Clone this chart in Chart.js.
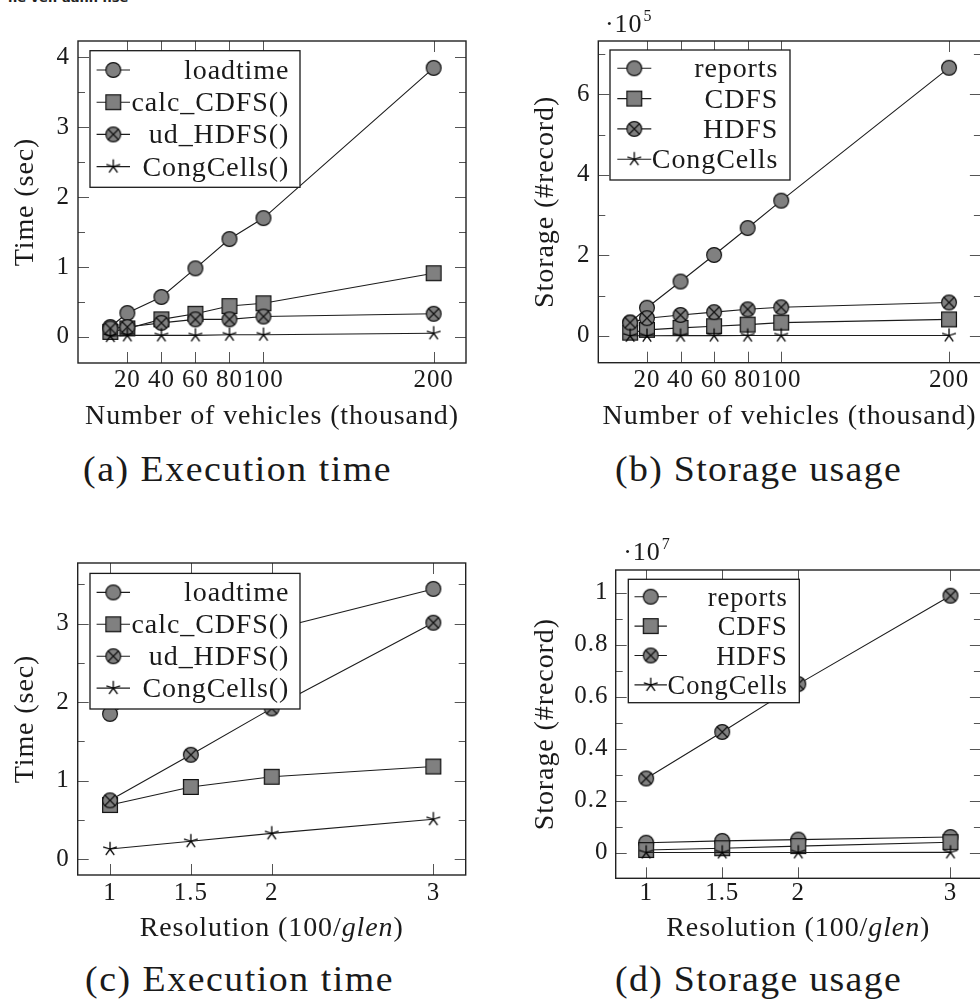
<!DOCTYPE html>
<html>
<head>
<meta charset="utf-8">
<script src="https://cdn.jsdelivr.net/npm/chart.js@4/dist/chart.umd.min.js"></script>
<style>
html,body{margin:0;padding:0;background:#fff;overflow:hidden;width:980px;height:1001px;position:relative;}
canvas{position:absolute;}
.cap{position:absolute;font-size:35px;line-height:35px;color:#1a1a1a;white-space:nowrap;transform-origin:0 0;}
#frag{position:absolute;left:8px;top:-10px;font:bold 13px 'DejaVu Sans',sans-serif;color:#222;white-space:nowrap;}
</style>
</head>
<body>
<div id="frag">ne ver. aann nse</div>
<canvas id="cA" width="490" height="432" style="left:0;top:0"></canvas>
<canvas id="cB" width="500" height="432" style="left:490px;top:0"></canvas>
<canvas id="cC" width="490" height="403" style="left:0;top:540px"></canvas>
<canvas id="cD" width="500" height="413" style="left:490px;top:530px"></canvas>
<div class="cap" id="capA" style="left:83px;top:452px">(a) Execution time</div>
<div class="cap" id="capB" style="left:615px;top:452px">(b) Storage usage</div>
<div class="cap" id="capC" style="left:85px;top:962px">(c) Execution time</div>
<div class="cap" id="capD" style="left:615px;top:962px">(d) Storage usage</div>
<script>
// ---------- data ----------
const vehicles = [10, 20, 40, 60, 80, 100, 200];          // thousand
const vehicleTicks = [20, 40, 60, 80, 100, 200];
const resolution = [1, 1.5, 2, 3];
const resolutionTicks = [1, 1.5, 2, 3];

// (a) execution time (sec)
const loadtimeA  = [0.14, 0.34, 0.57, 0.98, 1.40, 1.70, 3.85];
const calcCdfsA  = [0.07, 0.12, 0.25, 0.33, 0.44, 0.48, 0.91];
const udHdfsA    = [0.12, 0.14, 0.20, 0.25, 0.25, 0.29, 0.33];
const congCellsA = [0.01, 0.02, 0.02, 0.02, 0.03, 0.03, 0.05];
const timeTicksA = [0, 1, 2, 3, 4];
const timeMinorA = [0.5, 1.5, 2.5, 3.5];

// (b) storage (#record)
const reportsB   = [33000, 70000, 135000, 201000, 268000, 336000, 666000];
const cdfsB      = [8000, 15000, 20000, 24000, 28000, 33000, 41000];
const hdfsB      = [33000, 44000, 52000, 59000, 66000, 71000, 83000];
const congCellsB = [300, 500, 600, 700, 800, 900, 1000];
const storageTicksB = [0, 200000, 400000, 600000];
const storageMinorB = [100000, 300000, 500000, 700000];

// (c) execution time (sec)
const loadtimeC  = [1.85, 2.45, 2.92, 3.44];
const calcCdfsC  = [0.69, 0.92, 1.05, 1.18];
const udHdfsC    = [0.75, 1.33, 1.92, 3.01];
const congCellsC = [0.13, 0.23, 0.33, 0.51];
const timeTicksC = [0, 1, 2, 3];
const timeMinorC = [0.5, 1.5, 2.5, 3.5];

// (d) storage (#record)
const reportsD   = [380000, 450000, 500000, 600000];
const cdfsD      = [100000, 170000, 250000, 400000];
const hdfsD      = [2850000, 4640000, 6480000, 9880000];
const congCellsD = [5000, 6000, 7000, 8000];
const storageTicksD = [0, 2000000, 4000000, 6000000, 8000000, 10000000];
const storageMinorD = [1000000, 3000000, 5000000, 7000000, 9000000];

// ---------- font selection ----------
function fontAvailable(name) {
  const g = document.createElement('canvas').getContext('2d');
  const s = 'Number of vehicles (thousand) 0123456789 glen';
  g.font = '40px monospace'; const a = g.measureText(s).width;
  g.font = "40px '" + name + "', monospace"; const b = g.measureText(s).width;
  g.font = '40px sans-serif'; const a2 = g.measureText(s).width;
  g.font = "40px '" + name + "', sans-serif"; const b2 = g.measureText(s).width;
  return a !== b || a2 !== b2;
}
const candidates = ['Liberation Serif', 'Tinos', 'Times New Roman', 'DejaVu Serif', 'Noto Serif', 'FreeSerif', 'Nimbus Roman', 'Georgia'];
let picked = candidates.find(fontAvailable) || 'serif';
const FONT = (picked === 'serif') ? 'serif' : "'" + picked + "', serif";

const mg = document.createElement('canvas').getContext('2d');
mg.font = '28px ' + FONT;
const refW = mg.measureText('Number of vehicles (thousand)').width;
const K = Math.min(1, 374 / refW);
const SPACING = Math.max(0, Math.min(2, (374 - refW * K) / 29));
const SZ_TICK = 25 * K, SZ_LABEL = 28 * K, SZ_LEG = 28 * K, SZ_LEG_D = 26.5 * K;

Chart.defaults.font.family = FONT;
Chart.defaults.color = '#1a1a1a';

// captions
['capA', 'capB', 'capC', 'capD'].forEach((id, i) => {
  const el = document.getElementById(id);
  const target = [309, 287, 309, 287][i];
  mg.font = '35px ' + FONT;
  const w = mg.measureText(el.textContent).width;
  const k = Math.min(1, target / w);
  const fs = 35 * k;
  el.style.fontFamily = FONT;
  el.style.fontSize = fs + 'px';
  el.style.lineHeight = fs + 'px';
  const sx = Math.max(1, Math.min(1.08, target / (w * k)));
  const ls = Math.max(0, Math.min(2.5, (target / sx - w * k) / el.textContent.length));
  el.style.letterSpacing = ls + 'px';
  el.style.transform = 'scaleX(' + sx + ')';
  el.style.top = (parseFloat(el.style.top) + (35 - fs) * 0.84) + 'px';
});

function makeMarker(kind) {
  const c = document.createElement('canvas');
  c.width = 20; c.height = 20;
  const g = c.getContext('2d');
  g.lineWidth = 1.2; g.strokeStyle = '#111'; g.fillStyle = '#808080';
  const cx = 10, cy = 10, r = 7.4;
  if (kind === 'circle' || kind === 'otimes') {
    g.beginPath(); g.arc(cx, cy, r, 0, 2 * Math.PI); g.fill(); g.stroke();
    if (kind === 'otimes') {
      const d = r * Math.SQRT1_2;
      g.beginPath();
      g.moveTo(cx - d, cy - d); g.lineTo(cx + d, cy + d);
      g.moveTo(cx + d, cy - d); g.lineTo(cx - d, cy + d);
      g.stroke();
    }
  } else if (kind === 'square') {
    g.fillRect(cx - 7.4, cy - 7.4, 14.8, 14.8);
    g.strokeRect(cx - 7.4, cy - 7.4, 14.8, 14.8);
  } else if (kind === 'star') {
    g.lineWidth = 1.3; g.strokeStyle = '#000';
    g.beginPath();
    for (let k = 0; k < 5; k++) {
      const a = -Math.PI / 2 + k * 2 * Math.PI / 5;
      g.moveTo(cx, cy); g.lineTo(cx + 7.2 * Math.cos(a), cy + 7.2 * Math.sin(a));
    }
    g.stroke();
  }
  return c;
}
const MARK = { circle: makeMarker('circle'), square: makeMarker('square'), otimes: makeMarker('otimes'), star: makeMarker('star') };

const spacingPlugin = {
  id: 'spacing',
  beforeDraw(chart) { chart.ctx.letterSpacing = SPACING + 'px'; }
};

const framePlugin = {
  id: 'frame',
  beforeDatasetsDraw(chart, args, o) {
    const { ctx, chartArea: a, scales: { x, y } } = chart;
    ctx.save();
    ctx.strokeStyle = '#555'; ctx.lineWidth = 1;
    ctx.beginPath();
    const hTick = (v, len) => {
      const py = Math.round(y.getPixelForValue(v)) + 0.5;
      ctx.moveTo(a.left, py); ctx.lineTo(a.left + len, py);
      ctx.moveTo(a.right, py); ctx.lineTo(a.right - len, py);
    };
    const vTick = (v, len) => {
      const px = Math.round(x.getPixelForValue(v)) + 0.5;
      ctx.moveTo(px, a.bottom); ctx.lineTo(px, a.bottom - len);
      ctx.moveTo(px, a.top); ctx.lineTo(px, a.top + len);
    };
    y.ticks.forEach(t => hTick(t.value, 11));
    (o.yMinor || []).forEach(v => hTick(v, 7));
    x.ticks.forEach(t => vTick(t.value, 11));
    ctx.stroke();
    ctx.strokeStyle = '#222'; ctx.lineWidth = 1.4;
    ctx.strokeRect(a.left, a.top, a.right - a.left, a.bottom - a.top);
    ctx.restore();
  }
};

const legendPlugin = {
  id: 'boxLegend',
  afterDatasetsDraw(chart, args, o) {
    const { ctx, chartArea: a } = chart;
    const bx = a.left + o.x, by = a.top + o.y;
    ctx.save();
    ctx.fillStyle = '#fff'; ctx.fillRect(bx, by, o.w, o.h);
    ctx.strokeStyle = '#1a1a1a'; ctx.lineWidth = 1.3; ctx.strokeRect(bx, by, o.w, o.h);
    ctx.font = o.size + 'px ' + FONT;
    ctx.textAlign = 'right'; ctx.textBaseline = 'alphabetic';
    chart.data.datasets.forEach((ds, i) => {
      const ry = by + o.first + i * o.step;
      const mx = bx + o.mx;
      ctx.strokeStyle = '#1c1c1c'; ctx.lineWidth = 1.1;
      ctx.beginPath(); ctx.moveTo(mx - o.half, ry); ctx.lineTo(mx + o.half, ry); ctx.stroke();
      const img = ds.pointStyle;
      ctx.drawImage(img, mx - img.width / 2, ry - img.height / 2);
      ctx.fillStyle = '#1a1a1a';
      ctx.fillText(ds.label, bx + o.tr, ry + 9);
    });
    ctx.restore();
  }
};

const textPlugin = {
  id: 'extraText',
  afterDraw(chart, args, o) {
    const { ctx, chartArea: a, scales: { x } } = chart;
    ctx.save();
    ctx.fillStyle = '#1a1a1a';
    ctx.textBaseline = 'alphabetic'; ctx.textAlign = 'left';
    if (o.xTitle) {
      const segs = o.xTitle.map(s => ({ t: s.t, f: (s.italic ? 'italic ' : '') + SZ_LABEL + 'px ' + FONT }));
      let total = 0;
      segs.forEach(s => { ctx.font = s.f; s.w = ctx.measureText(s.t).width; total += s.w; });
      let px = (x.left + x.right) / 2 - total / 2;
      segs.forEach(s => { ctx.font = s.f; ctx.fillText(s.t, px, o.xTitleY); px += s.w; });
    }
    if (o.expo) {
      ctx.font = (26 * K) + 'px ' + FONT;
      const bx = a.left + o.expo.dx, by = a.top - o.expo.dy;
      ctx.fillText(o.expo.base, bx, by);
      const w = ctx.measureText(o.expo.base).width;
      ctx.font = (16 * K) + 'px ' + FONT;
      ctx.fillText(o.expo.sup, bx + w + 1, by - 11);
    }
    ctx.restore();
  }
};

function build(id, c) {
  const datasets = c.series.map((s, i, arr) => ({
    label: s.label,
    data: c.xs.map((xv, j) => ({ x: xv, y: s.values[j] })),
    borderColor: '#1c1c1c', borderWidth: 1.1, backgroundColor: '#808080',
    pointStyle: MARK[s.marker], pointRadius: 8, pointHoverRadius: 8,
    tension: 0, fill: false, clip: false, order: arr.length - 1 - i
  }));
  new Chart(document.getElementById(id), {
    type: 'line',
    data: { datasets },
    options: {
      responsive: false, animation: false, devicePixelRatio: 1,
      layout: { padding: { top: c.padTop, right: c.padRight, left: 0, bottom: 0 } },
      scales: {
        x: {
          type: 'linear', position: 'bottom', min: c.xMin, max: c.xMax,
          afterBuildTicks: s => { s.ticks = c.xTicks.map(v => ({ value: v })); },
          afterFit: s => { s.height = c.xHeight; },
          grid: { display: false, drawTicks: false }, border: { display: false },
          ticks: { padding: c.xTickPad, font: { size: SZ_TICK }, autoSkip: false, minRotation: 0, maxRotation: 0, color: '#1a1a1a', callback: v => String(v) },
          title: { display: false }
        },
        y: {
          type: 'linear', position: 'left', min: c.yMin, max: c.yMax,
          afterBuildTicks: s => { s.ticks = c.yTicks.map(v => ({ value: v })); },
          afterFit: s => { s.width = c.yWidth; },
          grid: { display: false, drawTicks: false }, border: { display: false },
          ticks: { padding: c.yTickPad, font: { size: SZ_TICK }, color: '#1a1a1a', callback: c.yFmt },
          title: { display: true, text: c.yTitle, font: { size: SZ_LABEL }, color: '#1a1a1a', padding: { top: c.yTitlePad, bottom: 0 } }
        }
      },
      plugins: {
        legend: { display: false }, tooltip: { enabled: false },
        frame: { yMinor: c.yMinor },
        boxLegend: c.legend,
        extraText: { xTitle: c.xTitle, xTitleY: c.xTitleY, expo: c.expo }
      }
    },
    plugins: [spacingPlugin, framePlugin, legendPlugin, textPlugin]
  });
}

const plain = v => String(v);
const vehTitle = [{ t: 'Number of vehicles (thousand)' }];
const resTitle = [{ t: 'Resolution (100/' }, { t: 'glen', italic: true }, { t: ')' }];

build('cA', {
  xs: vehicles, xTicks: vehicleTicks, xMin: -9, xMax: 219,
  yMin: -0.375, yMax: 4.235, yTicks: timeTicksA, yMinor: timeMinorA, yFmt: plain,
  padTop: 41, padRight: 24, yWidth: 78, xHeight: 69, xTickPad: 2.9, yTickPad: 8,
  yTitle: 'Time (sec)', yTitlePad: 8.7, xTitle: vehTitle, xTitleY: 424.3,
  series: [
    { label: 'loadtime', values: loadtimeA, marker: 'circle' },
    { label: 'calc_CDFS()', values: calcCdfsA, marker: 'square' },
    { label: 'ud_HDFS()', values: udHdfsA, marker: 'otimes' },
    { label: 'CongCells()', values: congCellsA, marker: 'star' }
  ],
  legend: { x: 12, y: 9.7, w: 210, h: 136.6, first: 19.3, step: 32.2, mx: 23.3, half: 16.7, tr: 199.3, size: SZ_LEG }
});

build('cB', {
  xs: vehicles, xTicks: vehicleTicks, xMin: -9, xMax: 219,
  yMin: -66600, yMax: 732600, yTicks: storageTicksB, yMinor: storageMinorB, yFmt: v => String(v / 1e5),
  padTop: 41, padRight: 4.3, yWidth: 108.3, xHeight: 69.3, xTickPad: 2.9, yTickPad: 8,
  yTitle: 'Storage (#record)', yTitlePad: 38.5, xTitle: vehTitle, xTitleY: 424.3,
  expo: { base: '·10', sup: '5', dx: 6.7, dy: 9.3 },
  series: [
    { label: 'reports', values: reportsB, marker: 'circle' },
    { label: 'CDFS', values: cdfsB, marker: 'square' },
    { label: 'HDFS', values: hdfsB, marker: 'otimes' },
    { label: 'CongCells', values: congCellsB, marker: 'star' }
  ],
  legend: { x: 11.7, y: 9, w: 180, h: 130, first: 18.3, step: 30.3, mx: 24.3, half: 17, tr: 168.3, size: SZ_LEG }
});

build('cC', {
  xs: resolution, xTicks: resolutionTicks, xMin: 0.8, xMax: 3.2,
  yMin: -0.2, yMax: 3.77, yTicks: timeTicksC, yMinor: timeMinorC, yFmt: plain,
  padTop: 12.3, padRight: 24.3, yWidth: 77.7, xHeight: 68, xTickPad: 3.6, yTickPad: 8,
  yTitle: 'Time (sec)', yTitlePad: 8.7, xTitle: resTitle, xTitleY: 396,
  series: [
    { label: 'loadtime', values: loadtimeC, marker: 'circle' },
    { label: 'calc_CDFS()', values: calcCdfsC, marker: 'square' },
    { label: 'ud_HDFS()', values: udHdfsC, marker: 'otimes' },
    { label: 'CongCells()', values: congCellsC, marker: 'star' }
  ],
  legend: { x: 12.3, y: 10.4, w: 210, h: 135.6, first: 19, step: 31.9, mx: 23.3, half: 16.7, tr: 199.3, size: SZ_LEG }
});

build('cD', {
  xs: resolution, xTicks: resolutionTicks, xMin: 0.8, xMax: 3.2,
  yMin: -988000, yMax: 10868000, yTicks: storageTicksD, yMinor: storageMinorD, yFmt: v => String(+(v / 1e7).toFixed(1)),
  padTop: 40, padRight: 3.4, yWidth: 125.7, xHeight: 64.7, xTickPad: 0.3, yTickPad: 7.4,
  yTitle: 'Storage (#record)', yTitlePad: 38.5, xTitle: resTitle, xTitleY: 406,
  expo: { base: '·10', sup: '7', dx: 7.6, dy: 10 },
  series: [
    { label: 'reports', values: reportsD, marker: 'circle' },
    { label: 'CDFS', values: cdfsD, marker: 'square' },
    { label: 'HDFS', values: hdfsD, marker: 'otimes' },
    { label: 'CongCells', values: congCellsD, marker: 'star' }
  ],
  legend: { x: 12.6, y: 9.3, w: 171, h: 123.4, first: 17.4, step: 29.4, mx: 22.4, half: 16.2, tr: 159.4, size: SZ_LEG_D }
});
</script>
</body>
</html>
